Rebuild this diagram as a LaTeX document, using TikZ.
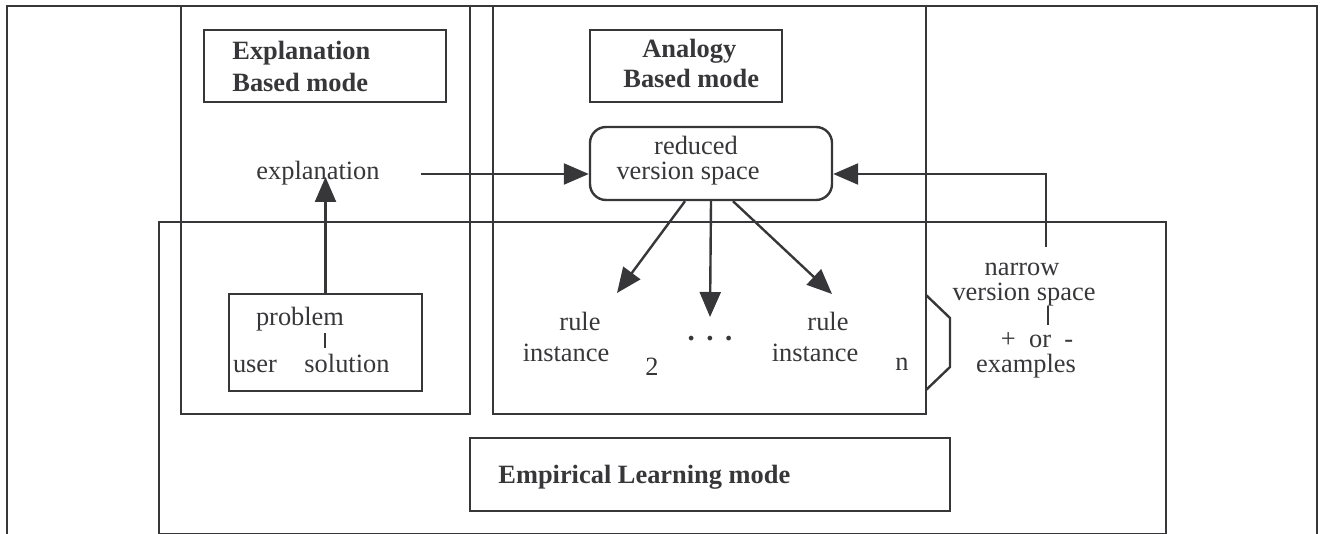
\documentclass[tikz,border=0pt]{standalone}
\usepackage{fontspec}
\setmainfont{Liberation Serif}
\usetikzlibrary{arrows.meta}
\definecolor{ink}{RGB}{55,55,58}
\begin{document}
\begin{tikzpicture}[x=0.5pt,y=-0.5pt,
  frame/.style={draw=ink, line width=1.2pt},
  lbl/.style={anchor=base, inner sep=0pt, text=ink, font=\fontsize{13.2}{15}\selectfont},
  ttl/.style={anchor=base west, inner sep=0pt, text=ink, font=\fontsize{13.2}{15}\selectfont\bfseries},
  arr/.style={draw=ink, line width=1.2pt, -{Triangle[length=12.5pt,width=10.5pt]}},
  tick/.style={draw=ink, line width=1.2pt}]
\useasboundingbox (0,0) rectangle (1320,534);

% outer frame (open at the bottom)
\draw[frame] (7,545) -- (7,6) -- (1317,6) -- (1317,545);

% mode panels
\draw[frame] (181,6) rectangle (470,414);
\draw[frame] (493,6) rectangle (926,414);
\draw[frame] (159,222) rectangle (1166,534);

% attachment bracket on the analogy panel
\draw[frame] (926,295) -- (950,318) -- (950,367) -- (926,390);

% panel titles
\draw[frame] (204,30) rectangle (446,102);
\node[ttl] (tExp1) at (232,60) {Explanation};
\node[ttl] (tExp2) at (232,92) {Based mode};
\draw[frame] (590,30) rectangle (782,102);
\node[ttl] (tAna1) at (642,58) {Analogy};
\node[ttl] (tAna2) at (623,88) {Based mode};
\draw[frame] (470,438) rectangle (950,511);
\node[ttl] (tEmp) at (498,483) {Empirical Learning mode};

% explanation panel contents
\node[lbl] (expl) at (318,180) {explanation};
\coordinate (exptip) at (326,177);
\coordinate (expout) at (421,174);
\node[frame, minimum width=96.5pt, minimum height=48.5pt, inner sep=0pt] (prob) at (325.5,342.5) {};
\node[lbl] (problem) at (300,325) {problem};
\draw[tick] (325,333) -- (325,348);
\node[lbl] (user) at (255,372) {user};
\node[lbl] (solution) at (347,372) {solution};
\draw[arr] (prob.north) -- (prob.north |- exptip);

% reduced version space
\node[frame, rounded corners=8pt, minimum width=121pt, minimum height=36.5pt, inner sep=0pt] (rvs) at (711,163.5) {};
\node[lbl] (rvs1) at (696,155) {reduced};
\node[lbl] (rvs2) at (688,180) {version space};
\draw[arr] (expout) -- (expout -| rvs.west);

% rule instances
\coordinate (tipA) at (617,293);
\coordinate (tipB) at (710,317);
\coordinate (tipC) at (832,294);
\draw[arr] ([xshift=-13pt]rvs.south) -- (tipA);
\draw[arr] (rvs.south) -- (tipB);
\draw[arr] ([xshift=11pt]rvs.south) -- (tipC);
\node[lbl] (ruleA) at (580,330) {rule};
\node[lbl] (instA) at (566,361) {instance};
\node[lbl] (subA) at (652,375) {2};
\node[lbl, font=\fontsize{14.5}{16}\selectfont\bfseries] (dots) at (710,340) {.\hspace{0.4em}.\hspace{0.4em}.};
\node[lbl] (ruleC) at (828,330) {rule};
\node[lbl] (instC) at (815,361) {instance};
\node[lbl] (subC) at (902,370) {n};

% narrow version space feedback
\node[lbl] (nar1) at (1022,275) {narrow};
\node[lbl] (nar2) at (1024,300) {version space};
\draw[tick] (1048,306) -- (1048,325);
\node[lbl] (pm) at (1037,347) {+\ \ or\ \ -};
\node[lbl] (ex) at (1026,372) {examples};
\coordinate (nvsup) at (1046,247);
\coordinate (nvsturn) at (1046,174);
\draw[arr] (nvsup) -- (nvsturn) -- (nvsturn -| rvs.east);
\end{tikzpicture}
\end{document}
